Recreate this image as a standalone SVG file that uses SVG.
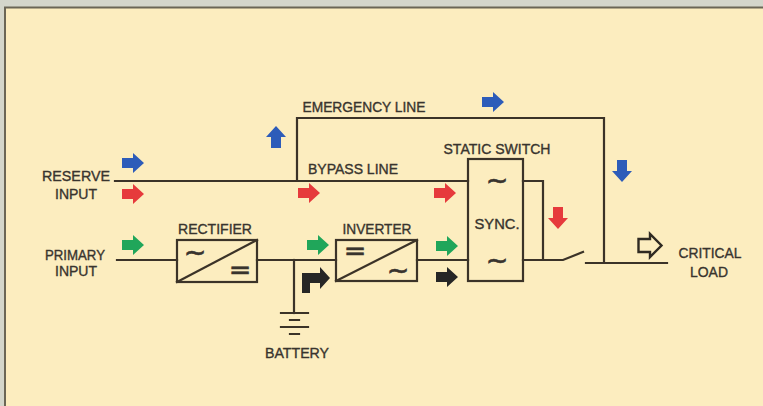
<svg xmlns="http://www.w3.org/2000/svg" width="763" height="406" viewBox="0 0 763 406">
<style>
.ln{fill:none;stroke:#3b3328;stroke-width:2.2;stroke-linecap:square}
.bx{fill:none;stroke:#3b3328;stroke-width:2.2}
.t{font-family:"Liberation Sans",Arial,sans-serif;font-size:14px;fill:#38342e;stroke:#38342e;stroke-width:0.35;text-anchor:middle}
.sym{font-family:"DejaVu Sans","Liberation Sans",sans-serif;font-size:27px;fill:#38342e;stroke:#38342e;stroke-width:0.6;text-anchor:middle}
.blue{fill:#2d5cb9}.red{fill:#e63a3c}.green{fill:#20a65a}.black{fill:#262626}
</style>
<defs>
<path id="arr" d="M-11,-5 H0 V-10 L11,0 L0,10 V5 H-11 Z"/>
</defs>
<rect x="0" y="0" width="763" height="406" fill="#d4d6cb"/>
<rect x="5" y="7" width="758" height="399" fill="#fcedbf"/>
<path d="M5,406 V7.5 H763" fill="none" stroke="#6b6656" stroke-width="2"/>

<g id="connectors">
<path class="ln" d="M115,181 H468"/>
<path class="ln" d="M297,181 V118 H604 V263"/>
<path class="ln" d="M117,260 H177"/>
<path class="ln" d="M257,260 H336"/>
<path class="ln" d="M417,260 H468"/>
<path class="ln" d="M294,260 V313"/>
<path class="ln" d="M523,181 H543 V260"/>
<path class="ln" d="M523,260 H563 L583,252"/>
<path class="ln" d="M586,263 H667"/>
</g>

<g id="reserve-input">
<text class="t" x="76" y="181" textLength="68" lengthAdjust="spacingAndGlyphs">RESERVE</text>
<text class="t" x="76" y="199" textLength="42" lengthAdjust="spacingAndGlyphs">INPUT</text>
</g>
<g id="primary-input">
<text class="t" x="75" y="260" textLength="60" lengthAdjust="spacingAndGlyphs">PRIMARY</text>
<text class="t" x="76" y="276" textLength="42" lengthAdjust="spacingAndGlyphs">INPUT</text>
</g>
<g id="rectifier">
<text class="t" x="215" y="234" textLength="74" lengthAdjust="spacingAndGlyphs">RECTIFIER</text>
<rect class="bx" x="177" y="240" width="80" height="42"/>
<path class="ln" d="M177,282 L257,240"/>
<text class="sym" x="195" y="261">~</text>
<text class="sym" x="240" y="279">=</text>
</g>
<g id="inverter">
<text class="t" x="377" y="234" textLength="69" lengthAdjust="spacingAndGlyphs">INVERTER</text>
<rect class="bx" x="336" y="240" width="81" height="41"/>
<path class="ln" d="M336,281 L417,240"/>
<text class="sym" x="355" y="260">=</text>
<text class="sym" x="398" y="279">~</text>
</g>
<g id="battery">
<path class="ln" d="M281,313 H308 M290,320 H299 M281,327 H308 M290,334 H299"/>
<text class="t" x="297" y="358" textLength="64" lengthAdjust="spacingAndGlyphs">BATTERY</text>
</g>
<g id="static-switch">
<text class="t" x="497" y="154" textLength="107" lengthAdjust="spacingAndGlyphs">STATIC SWITCH</text>
<rect class="bx" x="468" y="159" width="55" height="122"/>
<text class="sym" x="497" y="189">~</text>
<text class="t" x="497" y="229" textLength="45" lengthAdjust="spacingAndGlyphs">SYNC.</text>
<text class="sym" x="497" y="269">~</text>
</g>
<g id="emergency-line">
<text class="t" x="364" y="112" textLength="123" lengthAdjust="spacingAndGlyphs">EMERGENCY LINE</text>
</g>
<g id="bypass-line">
<text class="t" x="353" y="174" textLength="90" lengthAdjust="spacingAndGlyphs">BYPASS LINE</text>
</g>
<g id="critical-load">
<path d="M638.5,239 H650 V234 L661.5,245.5 L650,257 V252 H638.5 Z" fill="none" stroke="#2f2a22" stroke-width="2.4" stroke-linejoin="miter"/>
<text class="t" x="710" y="258" textLength="63" lengthAdjust="spacingAndGlyphs">CRITICAL</text>
<text class="t" x="709" y="277" textLength="38" lengthAdjust="spacingAndGlyphs">LOAD</text>
</g>

<g id="flow-arrows">
<use href="#arr" class="blue" transform="translate(133,163)"/>
<use href="#arr" class="red" transform="translate(133,194)"/>
<use href="#arr" class="green" transform="translate(133,245)"/>
<use href="#arr" class="blue" transform="translate(276,137) rotate(-90)"/>
<use href="#arr" class="blue" transform="translate(493,102)"/>
<use href="#arr" class="red" transform="translate(309,193)"/>
<use href="#arr" class="red" transform="translate(445,193)"/>
<use href="#arr" class="green" transform="translate(318,245)"/>
<use href="#arr" class="green" transform="translate(447,246)"/>
<use href="#arr" class="black" transform="translate(447,277)"/>
<use href="#arr" class="blue" transform="translate(622,171) rotate(90)"/>
<use href="#arr" class="red" transform="translate(558,218) rotate(90)"/>
<path class="black" d="M302,293 V273 H320 V267 L330,278 L320,289 V283 H310 V293 Z"/>
</g>
</svg>
